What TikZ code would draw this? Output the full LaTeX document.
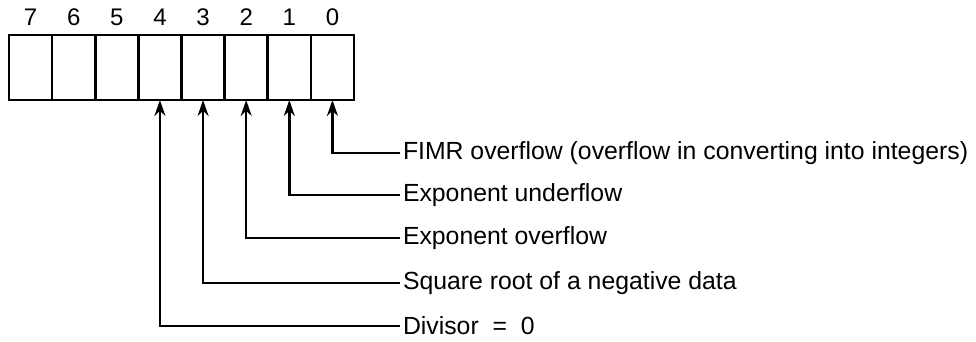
\documentclass[tikz,border=0pt]{standalone}
\usepackage{fontspec}
\setmainfont{Liberation Sans}
\usetikzlibrary{arrows.meta}
\begin{document}
\begin{tikzpicture}[x=1pt,y=-1pt,
  cell/.style={draw,line width=2.6pt,minimum width=43.125pt,minimum height=65pt,inner sep=0pt,outer sep=0pt},
  bitlabel/.style={font=\fontsize{24}{28}\selectfont,inner sep=0pt},
  desc/.style={font=\fontsize{24.8}{29}\selectfont,anchor=west,inner sep=0pt,outer sep=0pt},
  flag/.style={line width=2.4pt,-{Stealth[length=16pt,width=11pt]}}]
\useasboundingbox (0,0) rectangle (976,341);
\foreach \i in {0,...,7}{
  \node[cell] (b\i) at ({354-43.125*(\i+0.5)},67.5) {};
  \node[bitlabel] (l\i) at ({354-43.125*(\i+0.5)},17) {\i};
}
\node[desc] (t0) at (403,153) {FIMR overflow (overflow in converting into integers)};
\node[desc] (t1) at (403,195) {Exponent underflow};
\node[desc] (t2) at (403,238) {Exponent overflow};
\node[desc] (t3) at (403,283) {Square root of a negative data};
\node[desc] (t4) at (403,326) {Divisor\ \ =\ \ 0};
\foreach \i in {0,...,4}{
  \coordinate (c\i) at ([xshift=-3pt]t\i.west);
  \draw[flag] (c\i) -| (b\i.south);
}
\end{tikzpicture}
\end{document}
